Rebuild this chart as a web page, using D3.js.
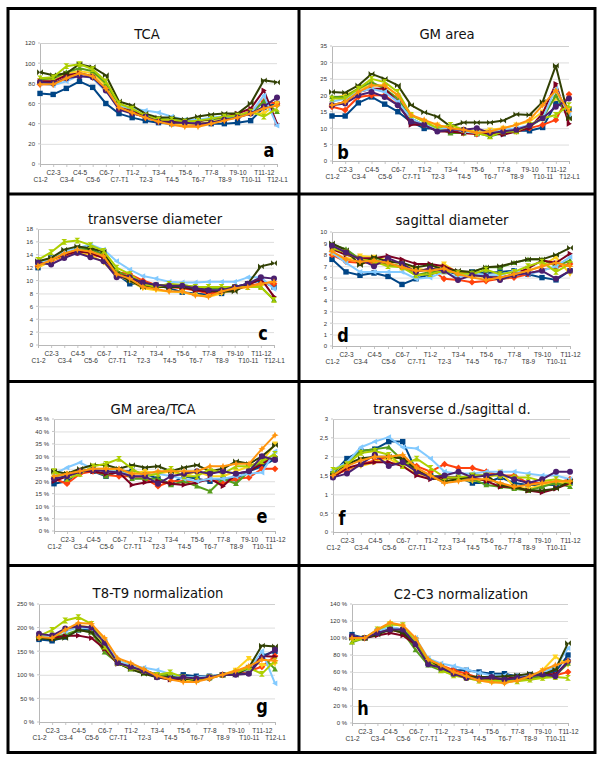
<!DOCTYPE html>
<html><head><meta charset="utf-8">
<script src="https://cdn.jsdelivr.net/npm/d3@7"></script>
<style>
html,body{margin:0;padding:0;background:#fff;}
svg{display:block;}
</style></head>
<body><svg id="chart" width="603" height="766"></svg>
<script>
// ---------- DATA ----------
const cats19 = ["C1-2","C2-3","C3-4","C4-5","C5-6","C6-7","C7-T1","T1-2","T2-3","T3-4","T4-5","T5-6","T6-7","T7-8","T8-9","T9-10","T10-11","T11-12","T12-L1"];
const cats18 = ["C1-2","C2-3","C3-4","C4-5","C5-6","C6-7","C7-T1","T1-2","T2-3","T3-4","T4-5","T5-6","T6-7","T7-8","T8-9","T9-10","T10-11","T11-12"];

// series order: dark blue, orange-red, yellow, green, maroon, light blue, olive, lime, purple, orange
const seriesColors = ["#004586","#ff420e","#ffd320","#579d1c","#7e0021","#83caff","#314004","#aecf00","#4b1f6f","#ff950e"];
const seriesShapes = ["square","diamond","down","up","right","left","bowtie","sandglass","circle","star"];

const tcaValues = [
  [70,69,75,82,76,60,50,46,43,41,40,40,40,40,40,41,43,56,60],
  [79,79,86,89,86,74,56,51,46,42,40,39,39,41,44,47,53,62,60],
  [83,84,90,92,90,78,57,52,47,42,40,39,40,42,45,47,50,50,60],
  [84,85,91,95,92,80,59,54,48,45,44,43,43,44,46,47,50,62,52],
  [82,82,88,90,87,74,56,52,48,43,42,43,42,45,47,50,55,73,40],
  [80,78,82,88,85,72,58,55,53,51,47,44,44,46,47,47,50,68,38],
  [91,88,90,99,96,88,62,58,50,46,46,44,47,49,50,50,60,83,81],
  [85,86,97,99,94,82,60,55,48,44,44,42,43,45,47,48,52,47,55],
  [81,80,85,87,86,73,54,50,47,42,41,41,40,41,44,46,50,57,66],
  [79,79,85,90,87,75,56,51,46,42,39,37,37,40,43,46,50,55,58]
];
const gmAreaValues = [
  [13.7,13.7,17.7,19.5,17.3,15,11.9,9.9,9.9,8.9,8.9,8.3,8.3,8.3,9.2,9.2,10.2,17.5,15.8],
  [16.5,15.5,19.5,20,20,17,12,11,10,9,8.5,8.2,8.5,8.5,9,10,11,12.5,20.3],
  [19,20,22,23,23,20,14,12,11,10,9.5,9,9.5,10,11,12,15,19,16],
  [19.5,19.5,22,24,22,19,13,11,10,8.5,8.5,8.5,7.5,8.5,9,10.5,13,20,13],
  [17,18,21,22,22,18,11,11,9,9,8.5,8.3,8.5,8,9,10,14.5,23.5,11.3],
  [18,19,21,22,21,18,13,11,10,10,9,8.5,9,9.5,10,11,13,22,14],
  [21,20.8,23,26.5,25,23,17,14.8,13.5,10.5,11.7,11.7,11.7,12.3,14.2,14,18,29,13],
  [19,19,22,25,24,21,14,12,10,11,9.5,8.5,7.5,9,9,11,13,14,17],
  [17,17.5,20,21,19.5,17,12,11,9,9.5,9.5,10,8.5,9,9.5,10.8,13,16.5,19],
  [17,18,21,23,23,20,14,12.5,11,10,9.5,8.5,9,10,11,12.5,17,21.5,15]
];
const transverseValues = [
  [12,13.5,14.5,15,15,14,11,9.5,9.5,9.3,8.8,8.2,8,7.8,8,9,9.5,10,9],
  [12.2,13,13.8,14.3,14,13.6,11.3,11,10,9.3,9,8.8,8.5,8,8.2,8.8,9.2,9.5,9.5],
  [12,13,14,14.5,14,12.8,10.8,10,8.8,8.5,8.3,8.2,7.8,7.5,8,8.7,9,9.2,10],
  [12.8,13.5,14.5,15,14.8,14,11.5,10.5,9.5,9.3,9.3,9.3,9,8.8,8.7,8.8,9.3,9,7],
  [12.5,13.3,14,14.5,14.3,13.5,11,10.5,9.5,9,9,9,8.5,8.3,8.3,8.5,9.3,10.3,7.5],
  [12.5,13.5,14.5,15,15.6,14.8,13,11.7,10.7,10.3,9.8,9.7,9.7,9.8,9.8,9.8,10.5,10.5,8.7],
  [13,13.5,14.8,15.3,15,14.5,11,10,9,9,9,9,8.8,8.5,8.3,8.3,9.5,12.2,12.7],
  [13.2,14.4,16,16.2,15.5,14.6,12,11,9.5,9,9.5,9.3,9,9,9,9,9,9,7],
  [12.8,12.5,13.5,14.3,13.6,13,10.5,10.5,9.7,9.3,9.2,9.2,8.8,8.5,8.5,9,9.5,10.5,10.3],
  [12.3,13.2,14.2,14.8,14.5,13.8,11,10.3,9,8.7,8.3,8.3,7.7,7.5,8.3,8.8,9,9.5,9.8]
];
const sagittalValues = [
  [7.6,6.5,6.2,6.4,6.1,5.4,5.9,6.3,6.6,6.3,6.5,6.4,6.5,6.6,6.3,6.0,5.8,6.6],
  [8.0,7.4,7.3,7.3,7.2,6.9,6.5,6.8,5.9,5.8,5.6,5.7,5.9,6.0,6.3,6.7,6.9,7.2],
  [8.1,7.6,7.9,7.8,7.5,7.2,6.8,6.6,7.2,6.4,6.2,6.0,5.8,6.2,6.6,7.0,7.8,6.3],
  [8.9,8.5,7.6,7.6,7.2,7.0,6.2,6.5,6.5,6.5,6.5,6.9,6.9,7.3,7.6,7.6,7.0,7.5],
  [8.5,8.0,7.7,7.7,7.9,7.6,7.2,7.2,7.0,6.5,6.3,6.2,6.0,6.3,6.8,7.5,7.3,8.1],
  [8.2,7.3,6.5,6.5,6.5,6.5,5.9,6.0,6.5,6.0,6.4,6.2,6.2,6.6,6.3,6.6,7.0,7.8],
  [9.0,8.4,7.1,7.8,7.4,7.3,6.9,7.1,6.7,6.6,6.5,6.9,7.0,7.3,7.6,7.6,8.0,8.6],
  [8.6,8.2,7.6,7.4,7.0,6.9,6.2,6.3,6.6,6.4,6.3,6.7,6.3,6.5,7.0,7.4,6.5,7.2],
  [8.8,8.2,7.6,7.0,7.7,7.2,6.5,6.8,6.6,5.8,6.2,6.1,5.8,6.2,6.4,6.6,5.9,6.6],
  [8.3,7.6,7.4,7.5,7.3,6.9,6.6,6.6,6.8,6.3,6.0,5.8,6.0,6.3,6.6,7.0,7.3,7.0]
];
const gmRatioValues = [
  [19,20,24,24,22,24,24,23,21,19,22,21,20,21,21,24,26,29],
  [21,19,23,24,22.5,22,22,21,18,20,20,20,21,19,21,21.5,25,25],
  [22,23,24,25,25,24,23,24,23,24,22,24,22,22,24,26,28,35],
  [22,23,24,25,22,25,21,21,21,18.5,20,18,16,21,19,24,28,30],
  [20,22,24,24,23,23.5,18.5,19.5,20,19,18.5,19.5,21,18,23,24,27,30],
  [23,25.5,27.5,25,24,24,22,22,23,22,21,20,21,21,22,23,23.5,32],
  [24,23,25,26.5,26.5,25,26.5,25.5,26,24,25.5,26.5,24,25,28,27,30,34.5],
  [24,21,23,26,27,29,25,22,23,25,22,22,25,23,26,26,28,31],
  [21,22,24,24.5,24,23.5,22,22,19,22,23,24,23,24,23,24,30,28.5],
  [22,23,24,25,25,25,23,23,24,24,24,24,26,26,27,27,33,38.5]
];
const diamRatioValues = [
  [1.55,1.95,2.15,2.2,2.4,2.4,1.6,1.5,1.45,1.45,1.3,1.3,1.45,1.3,1.25,1.25,1.25,1.3],
  [1.5,1.65,1.8,1.9,2.0,1.95,1.75,1.6,1.8,1.7,1.7,1.6,1.5,1.5,1.3,1.3,1.3,1.4],
  [1.5,1.7,1.75,1.85,1.95,1.75,1.55,1.45,1.35,1.4,1.35,1.4,1.6,1.2,1.15,1.25,1.3,1.3],
  [1.6,1.85,2.15,2.2,2.25,1.9,1.6,1.5,1.45,1.4,1.4,1.25,1.2,1.15,1.1,1.2,1.3,1.2],
  [1.45,1.7,1.8,1.85,1.85,1.75,1.5,1.4,1.45,1.45,1.45,1.35,1.2,1.2,1.1,1.05,1.15,1.3],
  [1.65,1.85,2.25,2.4,2.52,2.25,2.22,1.95,1.6,1.55,1.55,1.6,1.6,1.6,1.55,1.5,1.5,1.4],
  [1.5,1.8,1.95,2.0,2.0,1.95,1.65,1.45,1.35,1.4,1.5,1.5,1.25,1.2,1.1,1.1,1.15,1.35],
  [1.65,1.8,2.1,2.15,2.05,1.75,1.95,1.7,1.45,1.45,1.5,1.5,1.5,1.45,1.45,1.35,1.4,1.3],
  [1.45,1.55,1.8,2.05,1.75,1.85,1.6,1.45,1.5,1.6,1.45,1.5,1.55,1.4,1.3,1.4,1.6,1.6],
  [1.5,1.75,1.9,2.0,2.0,2.05,1.7,1.5,1.3,1.35,1.4,1.4,1.3,1.2,1.25,1.3,1.35,1.35]
];
const t8t9Values = [
  [175,172,180,195,195,170,125,115,110,100,95,100,97,97,100,102,104,140,150],
  [180,178,195,202,198,170,130,120,110,98,92,90,88,92,100,104,108,117,140],
  [178,180,195,205,200,175,130,120,108,95,90,88,88,92,100,110,135,120,123],
  [182,180,185,195,190,148,125,112,103,98,100,93,88,93,100,103,112,140,112],
  [178,178,182,183,178,155,123,117,105,95,90,92,90,94,100,104,110,140,138],
  [180,182,192,200,198,170,130,120,115,110,102,95,95,97,100,105,110,150,82],
  [178,175,178,195,190,160,125,112,102,95,95,92,90,95,100,100,115,162,160],
  [182,195,215,222,208,160,125,115,108,100,105,95,90,95,100,105,115,102,130],
  [187,183,198,203,200,168,125,117,108,95,92,95,92,95,100,100,102,135,153],
  [180,178,195,210,208,178,135,125,112,98,90,85,85,92,100,108,118,132,130]
];
const c2c3Values = [
  [104,100,108,112,110,98,70,66,62,62,60,58,58,55,57,58,60,80],
  [100,100,106,110,106,94,72,68,62,58,53,50,48,50,52,54,56,60],
  [98,100,108,117,114,98,72,66,58,53,50,48,48,50,54,62,78,68],
  [95,100,108,112,107,86,68,62,57,55,52,51,51,52,53,55,56,70],
  [101,100,103,106,103,92,70,65,59,55,52,52,52,54,55,58,57,72],
  [102,100,108,113,110,100,76,70,67,63,59,56,56,55,56,60,65,88],
  [100,100,104,110,106,94,72,66,58,55,54,54,55,56,58,57,63,94],
  [96,100,110,116,115,95,73,62,56,53,50,50,49,49,51,53,54,53],
  [102,100,106,110,110,93,69,65,58,53,52,54,51,53,55,57,55,73],
  [100,100,110,118,115,100,75,68,60,55,50,48,47,50,55,62,68,73]
];

const titles = ["TCA","GM area","transverse diameter","sagittal diameter","GM area/TCA","transverse d./sagittal d.","T8-T9 normalization","C2-C3 normalization"];
const letters = ["a","b","c","d","e","f","g","h"];
const yTicksA = [0,20,40,60,80,100,120];
const yTicksB = [0,5,10,15,20,25,30,35];
const yTicksC = [0,2,4,6,8,10,12,14,16,18];
const yTicksD = [0,1,2,3,4,5,6,7,8,9,10];
const yTicksE = [0,5,10,15,20,25,30,35,40,45];
const yTicksF = [0,0.5,1,1.5,2,2.5,3];
const yTicksG = [0,50,100,150,200,250];
const yTicksH = [0,20,40,60,80,100,120,140];

// ---------- LAYOUT ----------
const fmtNum = d => String(d);
const fmtComma = d => String(d).replace(".", ",");
const fmtPct = d => d + " %";

const panels = [
  {cats:cats19, data:tcaValues,        ticks:yTicksA, fmt:fmtNum,   box:[40,277,43,164],  title:[147,39],  letter:[269,157]},
  {cats:cats19, data:gmAreaValues,     ticks:yTicksB, fmt:fmtNum,   box:[332,569,46,161], title:[447,39],  letter:[343,159]},
  {cats:cats19, data:transverseValues, ticks:yTicksC, fmt:fmtNum,   box:[38,274,229,345], title:[155,224], letter:[263,340]},
  {cats:cats18, data:sagittalValues,   ticks:yTicksD, fmt:fmtNum,   box:[332,570,232,346],title:[452,225], letter:[343,342]},
  {cats:cats18, data:gmRatioValues,    ticks:yTicksE, fmt:fmtPct,   box:[54,275,419,531], title:[153,414], letter:[262,523]},
  {cats:cats18, data:diamRatioValues,  ticks:yTicksF, fmt:fmtComma, box:[333,570,419,532],title:[452,414], letter:[342,525]},
  {cats:cats19, data:t8t9Values,       ticks:yTicksG, fmt:fmtPct,   box:[39,275,604,722], title:[158,598], letter:[262,713]},
  {cats:cats18, data:c2c3Values,       ticks:yTicksH, fmt:fmtPct,   box:[352,568,604,723],title:[461,599], letter:[363,715]}
];

// ---------- MARKERS ----------
function shapePath(kind){
  const p = d3.path();
  const r = 2.9;
  switch(kind){
    case "square": p.rect(-2.7,-2.7,5.4,5.4); break;
    case "diamond": p.moveTo(0,-3.4);p.lineTo(3.4,0);p.lineTo(0,3.4);p.lineTo(-3.4,0);p.closePath(); break;
    case "down": p.moveTo(-r,-r*0.8);p.lineTo(r,-r*0.8);p.lineTo(0,r);p.closePath(); break;
    case "up": p.moveTo(-r,r*0.8);p.lineTo(r,r*0.8);p.lineTo(0,-r);p.closePath(); break;
    case "right": p.moveTo(-r*0.8,-r);p.lineTo(r,0);p.lineTo(-r*0.8,r);p.closePath(); break;
    case "left": p.moveTo(r*0.8,-r);p.lineTo(-r,0);p.lineTo(r*0.8,r);p.closePath(); break;
    case "bowtie": p.moveTo(-r,-r);p.lineTo(r,r);p.lineTo(r,-r);p.lineTo(-r,r);p.closePath(); break;
    case "sandglass": p.moveTo(-r,-r);p.lineTo(r,-r);p.lineTo(-r,r);p.lineTo(r,r);p.closePath(); break;
    case "circle": p.arc(0,0,3,0,Math.PI*2); break;
    case "star": {const R=3.6,k=1.1; p.moveTo(0,-R);p.lineTo(k,-k);p.lineTo(R,0);p.lineTo(k,k);p.lineTo(0,R);p.lineTo(-k,k);p.lineTo(-R,0);p.lineTo(-k,-k);p.closePath(); break;}
  }
  return p.toString();
}

// ---------- DRAW ----------
const svg = d3.select("#chart");
svg.append("rect").attr("width",603).attr("height",766).attr("fill","#fff");

panels.forEach((P,pi)=>{
  const [x0,x1,yT,yB] = P.box;
  const g = svg.append("g");
  const x = d3.scalePoint().domain(P.cats).range([x0,x1]);
  const yMax = P.ticks[P.ticks.length-1];
  const y = d3.scaleLinear().domain([0,yMax]).range([yB,yT]);

  // gridlines + y labels
  const ya = g.append("g").attr("transform",`translate(${x0},0)`)
    .call(d3.axisLeft(y).tickValues(P.ticks).tickFormat(P.fmt).tickSize(-(x1-x0)).tickPadding(5));
  ya.select(".domain").attr("stroke","#b8b8b8");
  ya.selectAll(".tick line").attr("stroke","#d4d4d4").attr("stroke-width",0.8);
  ya.selectAll(".tick text").attr("font-family","Liberation Sans, Arial, sans-serif").attr("font-size","6px").attr("fill","#333");
  g.append("g").selectAll("line").data(P.ticks).join("line")
    .attr("x1",x0-2).attr("x2",x0).attr("y1",d=>y(d)).attr("y2",d=>y(d)).attr("stroke","#b8b8b8").attr("stroke-width",0.8);

  // x axis
  const xa = g.append("g").attr("transform",`translate(0,${yB})`)
    .call(d3.axisBottom(x).tickSize(3).tickPadding(0));
  xa.select(".domain").attr("stroke","#b8b8b8");
  xa.selectAll(".tick line").attr("stroke","#b8b8b8").attr("stroke-width",0.8);
  xa.selectAll(".tick text")
    .attr("font-family","Liberation Sans, Arial, sans-serif").attr("font-size","6.5px").attr("fill","#333")
    .attr("dy",0).attr("y",(d,i)=> i%2===0 ? 17.5 : 10.5);

  // series
  const line = d3.line().x((d,i)=>x(P.cats[i])).y(d=>y(d));
  P.data.forEach((vals,si)=>{
    const col = seriesColors[si];
    const sg = g.append("g");
    sg.append("path").attr("d",line(vals)).attr("fill","none").attr("stroke",col)
      .attr("stroke-width",2).attr("stroke-linejoin","round");
    sg.selectAll("path.m").data(vals).join("path").attr("class","m")
      .attr("d",shapePath(seriesShapes[si]))
      .attr("transform",(d,i)=>`translate(${x(P.cats[i])},${y(d)})`)
      .attr("fill",col);
  });

  // title
  svg.append("text").attr("x",P.title[0]).attr("y",P.title[1]).attr("text-anchor","middle")
    .attr("font-family","DejaVu Sans, sans-serif").attr("font-size","13.2px").attr("fill","#111")
    .text(titles[pi]);
  // letter (condensed bold)
  svg.append("text").attr("transform",`translate(${P.letter[0]},${P.letter[1]}) scale(0.85,1)`)
    .attr("text-anchor","middle")
    .attr("font-family","DejaVu Sans, sans-serif").attr("font-weight","bold").attr("font-size","19px")
    .attr("fill","#000").text(letters[pi]);
});

// frame
const frame = svg.append("g").attr("stroke","#000").attr("stroke-width",3).attr("fill","none");
frame.append("rect").attr("x",8).attr("y",8.5).attr("width",587).attr("height",744);
frame.append("line").attr("x1",299).attr("x2",299).attr("y1",8.5).attr("y2",752.5);
[194,381.5,565.5].forEach(yy=>frame.append("line").attr("x1",8).attr("x2",595).attr("y1",yy).attr("y2",yy));
</script>
</body></html>
